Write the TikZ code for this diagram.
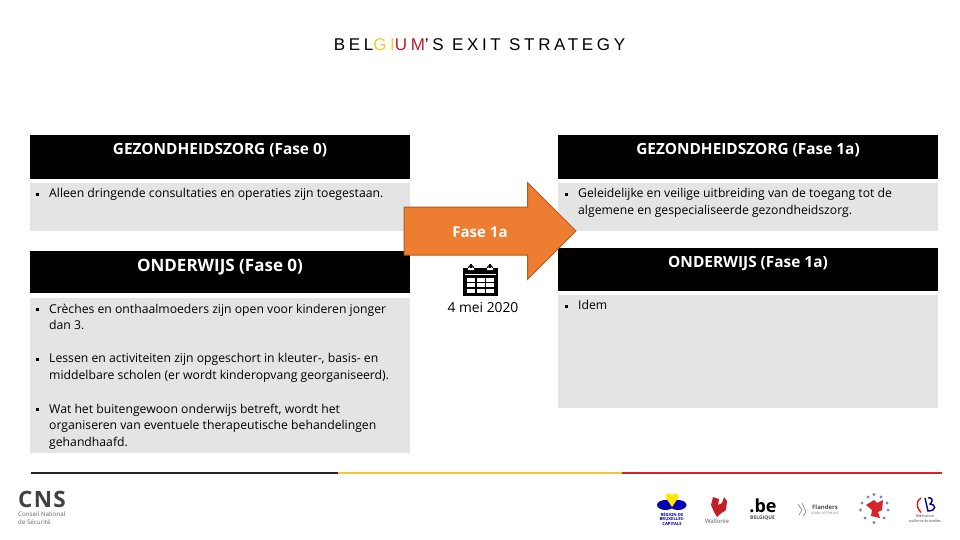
\documentclass[tikz,border=0pt]{standalone}
\usepackage{fontspec}
\setmainfont{Open Sans}
\newfontfamily\titlefont{Liberation Sans}
\usetikzlibrary{shapes,shapes.arrows,positioning}
\definecolor{fasegrey}{HTML}{E4E4E4}
\definecolor{faseorange}{HTML}{ED7D31}
\definecolor{faseedge}{HTML}{AE5A21}
\definecolor{beyellow}{HTML}{F2C92E}
\definecolor{bered}{HTML}{D8232A}
\definecolor{titlered}{HTML}{B5202A}
\newcommand{\itm}{\leavevmode\llap{\rule[2.2pt]{2.6pt}{2.6pt}\hspace{10.5pt}}}
\tikzset{
headbox/.style = {fill=black, minimum width=380pt, inner sep=0pt, outer sep=0pt},
greybox/.style = {fill=fasegrey, minimum width=380pt, inner sep=0pt, outer sep=0pt},
headtext/.style = {text=white, font=\fontsize{15.4}{18}\selectfont\bfseries, inner sep=0pt},
bodytext/.style = {anchor=north west, align=left, inner sep=0pt, font=\fontsize{12.2}{16.6}\selectfont},
footline/.style = {line width=2pt},
logotext/.style = {inner sep=0pt, align=center}
}
\begin{document}
\begin{tikzpicture}[x=1pt,y=-1pt]
  \useasboundingbox (0,0) rectangle (960,540);

  \node [inner sep=0pt, font=\titlefont\fontsize{17}{20}\selectfont] (title) at (479.5,44.5)
    {\addfontfeature{LetterSpace=21.5}BEL{\color{beyellow}GI}{\color{titlered}UM}’S EXIT STRATEGY};

  \node [headbox, minimum height=44pt] (zorga) at (220,157) {};
  \node [headbox, minimum height=44pt] (zorgb) at (748,157) {};
  \node [greybox, minimum height=48pt] (zorgatxt) at (220,207) {};
  \node [greybox, minimum height=48pt] (zorgbtxt) at (748,207) {};
  \node [headbox, minimum height=42pt] (onderwijsa) at (220,272) {};
  \node [headbox, minimum height=43pt] (onderwijsb) at (748,269.5) {};
  \node [greybox, minimum height=155pt] (onderwijsatxt) at (220,375.5) {};
  \node [greybox, minimum height=113pt] (onderwijsbtxt) at (748,351.5) {};

  \node [headtext] at (220,150.5) {GEZONDHEIDSZORG (Fase 0)};
  \node [headtext] at (748,150.5) {GEZONDHEIDSZORG (Fase 1a)};
  \node [headtext, font=\fontsize{17}{20}\selectfont\bfseries] at (220,267.5) {ONDERWIJS (Fase 0)};
  \node [headtext] at (748,263.5) {ONDERWIJS (Fase 1a)};

  \node [bodytext] at (49,188.5) {\itm Alleen dringende consultaties en operaties zijn toegestaan.};
  \node [bodytext] at (578,188.5) {\itm Geleidelijke en veilige uitbreiding van de toegang tot de\\algemene en gespecialiseerde gezondheidszorg.};
  \node [bodytext] at (49,303.5) {\itm Crèches en onthaalmoeders zijn open voor kinderen jonger\\dan 3.};
  \node [bodytext] at (49,353.5) {\itm Lessen en activiteiten zijn opgeschort in kleuter-, basis- en\\middelbare scholen (er wordt kinderopvang georganiseerd).};
  \node [bodytext] at (49,403.5) {\itm Wat het buitengewoon onderwijs betreft, wordt het\\organiseren van eventuele therapeutische behandelingen\\gehandhaafd.};
  \node [bodytext] at (578,300.5) {\itm Idem};

  % arrow and date
  \node [draw=faseedge, line width=1pt, fill=faseorange, single arrow, single arrow tip angle=90,
    single arrow head extend=24.5pt, minimum height=172pt, minimum width=96pt, inner sep=0pt] (pijl) at (478,231) {\rule{0pt}{47pt}};
  \node [text=white, inner sep=0pt, font=\fontsize{15}{18}\selectfont\bfseries] (fase) at (480,232.5) {Fase 1a};
  \node [inner sep=0pt, font=\fontsize{13.8}{16}\selectfont] (datum) at (483,308) {4 mei 2020};

  % calendar
  \fill (463,268) rectangle (498,296);
  \fill [white] (465,274) rectangle (496,275.2);
  \foreach \x in {467,476.5,486} \foreach \y in {277.5,283,288.5}
    \fill [white] (\x,\y) rectangle +(8,4);
  \draw [line width=1.2pt] (471,264) -- (471,270) (490,264) -- (490,270);
  \fill [white] (468,268) rectangle (474,270) (487,268) rectangle (493,270);
  \draw [line width=1.2pt] (468.5,268) arc (180:360:2.5) (487.5,268) arc (180:360:2.5);

  \coordinate (linea) at (31,472.5);
  \coordinate (lineb) at (338,472.5);
  \coordinate (linec) at (622,472.5);
  \coordinate (lined) at (942,472.5);
  \draw [footline, black!85] (linea) -- (lineb);
  \draw [footline, beyellow] (lineb) -- (linec);
  \draw [footline, bered] (linec) -- (lined);

  % logos
  \node [logotext, text=black!75, font=\fontsize{22.5}{24}\selectfont\bfseries] (cns) at (42,499.5) {\addfontfeature{LetterSpace=6}CNS};
  \node [logotext, anchor=north west, align=left, text=black!60, font=\fontsize{6.2}{7.5}\selectfont] (cnstxt) at (18,512) {Conseil National\\de Sécurité};

  \fill [blue!70!black] (665.5,505) ellipse (8.5 and 5) (678,505) ellipse (8.5 and 5);
  \fill [yellow!90!orange] (666,498) .. controls (664,492) and (670,493) .. (672,495) .. controls (674,493) and (680,492) .. (678,498) -- (672,507) -- cycle;
  \node [logotext, text=blue!70!black, font=\fontsize{4.2}{4.6}\selectfont\bfseries] (bru) at (672,519) {RÉGION DE\\BRUXELLES-\\CAPITALE};

  \fill [bered!90!black] (711,505) -- (713,497) -- (719,499) -- (718,505) -- (722,503) -- (724,497) -- (727,501) -- (726,510) -- (720,514) -- (717,517) -- (714,512) -- cycle;
  \node [logotext, text=black!65, font=\fontsize{6}{7}\selectfont] (wal) at (717,521.5) {Wallonie};

  \node [logotext, font=\fontsize{18}{18}\selectfont\bfseries] (be) at (763,505.5) {.be};
  \node [logotext, text=black!70, font=\fontsize{5}{6}\selectfont\bfseries] (bel) at (762.5,518.5) {BELGIQUE};

  \draw [black!50, line width=.6pt] (798,504) -- (802,510) -- (799,515) (802,503) -- (806,512) -- (803,516);
  \node [logotext, text=black!70, font=\fontsize{6}{7}\selectfont\bfseries] (vl) at (825,507) {Flanders};
  \node [logotext, text=black!45, font=\fontsize{4}{5}\selectfont] (vlb) at (825,513) {state of the art};

  \fill [bered] (866,505) -- (874,500) -- (877,503) -- (883,500) -- (882,510) -- (878,512) -- (880,518) -- (871,516) -- (872,510) -- cycle;
  \foreach \x/\y in {868/497,874/494.5,881/497,862/503,887/503,860.5/510,888/510,865/518,884/518,874/522.5}
    \fill [blue!40!gray!70] (\x,\y) circle (1.7);

  \draw [bered, line width=1.5pt] (921,498) .. controls (914,503) and (918,509) .. (921,512.5);
  \draw [blue!60!black, line width=1.4pt] (925,498) -- (928,511) .. controls (937,511) and (936,504) .. (930,504) .. controls (935,499) and (930,497) .. (928,498);
  \node [logotext, text=black!70, font=\fontsize{3.8}{4.6}\selectfont] (fwb) at (925,518.5) {fédération\\wallonie-bruxelles};
\end{tikzpicture}
\end{document}
